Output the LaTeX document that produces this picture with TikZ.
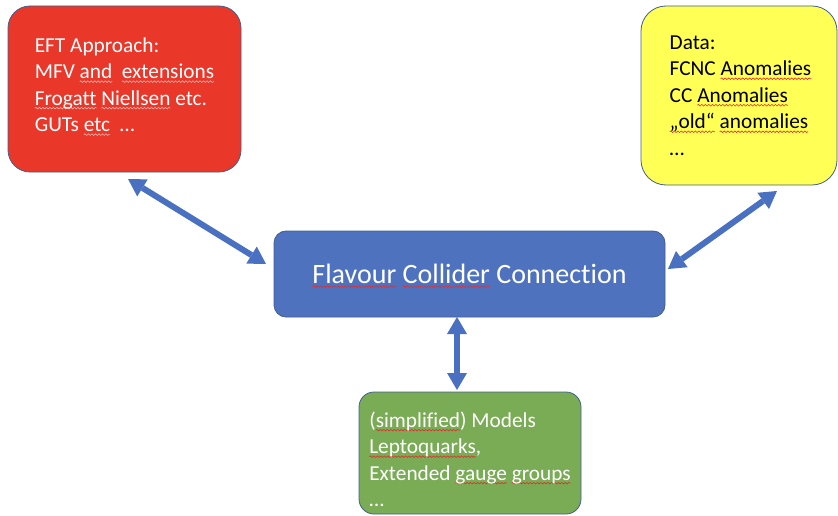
\documentclass[tikz,border=0pt]{standalone}
\usepackage{fontspec}
\setmainfont{Carlito}[Ligatures=NoCommon]
\usetikzlibrary{arrows.meta,decorations.pathmorphing}
\definecolor{eftred}{HTML}{E9372A}
\definecolor{datayellow}{HTML}{FFFF55}
\definecolor{modgreen}{HTML}{7AAB55}
\definecolor{fccblue}{HTML}{4E72BE}
\definecolor{edgecol}{HTML}{41608F}
\definecolor{arrowblue}{HTML}{4A70C2}
\definecolor{squig}{HTML}{E03030}
\definecolor{lightsquig}{HTML}{F7B8B0}
\newsavebox\sqbox
\newlength\sqlen
\newcommand\sqw[2][squig]{\sbox\sqbox{#2}\setlength\sqlen{\wd\sqbox}%
  \rlap{\tikz[overlay,baseline=0pt]\draw[#1,line width=0.6pt,sharp corners,solid,
     decorate,decoration={snake,amplitude=0.8pt,segment length=3.5pt}]
     (0pt,-3pt) -- (\sqlen,-3pt);}\usebox\sqbox}
\tikzset{
  boxstyle/.style={draw=edgecol, line width=0.8pt, align=left, inner sep=0pt,
    font=\fontsize{21.3}{26.5}\selectfont},
  biarrow/.style={draw=arrowblue, line width=6pt,
    {Triangle[width=20pt,length=17pt,line width=0pt]}-{Triangle[width=20pt,length=17pt,line width=0pt]}}
}
\begin{document}
\begin{tikzpicture}[x=1pt,y=-1pt]
\useasboundingbox (0,0) rectangle (838,516);
\node[boxstyle, fill=eftred, text=white, minimum width=233pt, minimum height=166pt, rounded corners=22pt] (eft) at (124.5,89)
  {EFT Approach:\\MFV \sqw[lightsquig]{and}\ \ \sqw[lightsquig]{extensions}\\\sqw[lightsquig]{Frogatt} \sqw[lightsquig]{Niellsen} etc.\\GUTs \sqw[lightsquig]{etc}\ \ …\rule[-9pt]{0pt}{1pt}};
\node[boxstyle, fill=datayellow, text=black, minimum width=196pt, minimum height=179pt, rounded corners=25pt] (data) at (739,95.5)
  {\hspace*{3pt}Data:\\\hspace*{3pt}FCNC \sqw{Anomalies}\\\hspace*{3pt}CC \sqw{Anomalies}\\\hspace*{3pt}\sqw{„old“} \sqw{anomalies}\\\hspace*{3pt}…};
\node[boxstyle, fill=fccblue, text=white, minimum width=391pt, minimum height=86pt, rounded corners=12pt,
  font=\fontsize{28}{33}\selectfont] (fcc) at (469.5,274)
  {\sqw{Flavour} \sqw{Collider} Connection};
\node[boxstyle, fill=modgreen, text=white, minimum width=222pt, minimum height=122pt, rounded corners=15pt] (mod) at (470,453)
  {\rule{0pt}{28pt}(\sqw{simplified}) Models\\\sqw{Leptoquarks},\\Extended \sqw{gauge} \sqw{groups}\\…};
\coordinate (e1) at (128,179);
\coordinate (f1) at (266,264);
\coordinate (d1) at (777,191);
\coordinate (f2) at (668,269);
\coordinate (f3) at (457,317);
\coordinate (m1) at (457,390);
\draw[biarrow] (e1) -- (f1);
\draw[biarrow] (d1) -- (f2);
\draw[biarrow] (f3) -- (m1);
\end{tikzpicture}
\end{document}
